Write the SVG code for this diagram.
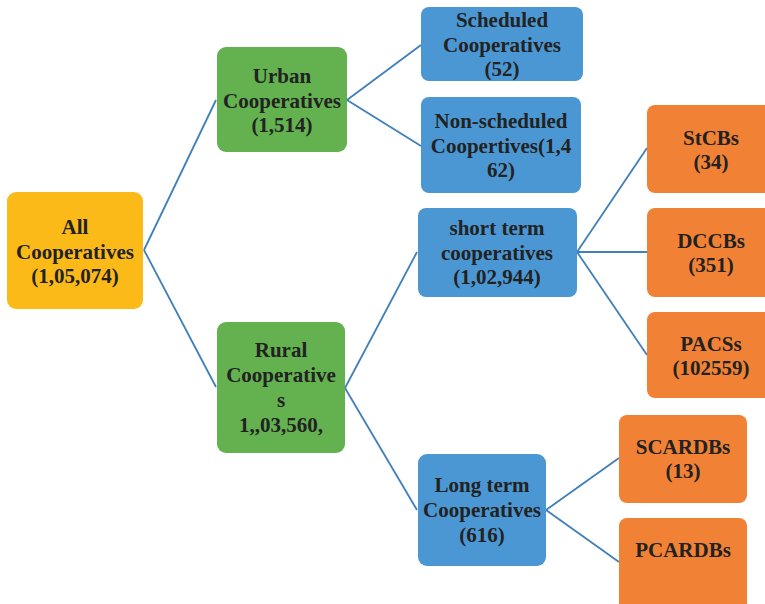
<svg xmlns="http://www.w3.org/2000/svg" width="765" height="604" viewBox="0 0 765 604">
<style>
.y{fill:#FBBA18}
.g{fill:#63B14F}
.b{fill:#4B97D3}
.o{fill:#F18135}
text{font-family:"Liberation Serif","Times New Roman",serif;font-weight:bold;font-size:21px;fill:#222;text-anchor:middle}
.c line{stroke:#3F7FBA;stroke-width:1.8}
</style>
<rect width="765" height="604" fill="#fff"/>
<g class="c" id="connectors">
<line x1="144" y1="250" x2="216" y2="100"/>
<line x1="144" y1="250" x2="216" y2="387"/>
<line x1="347" y1="100" x2="421" y2="45"/>
<line x1="347" y1="100" x2="421" y2="146"/>
<line x1="345" y1="388" x2="417" y2="252"/>
<line x1="345" y1="388" x2="417" y2="510"/>
<line x1="577" y1="252" x2="647" y2="148"/>
<line x1="577" y1="252" x2="647" y2="252"/>
<line x1="577" y1="252" x2="647" y2="355"/>
<line x1="546" y1="510" x2="619" y2="458"/>
<line x1="546" y1="510" x2="619" y2="562"/>
</g>
<g id="all"><rect class="y" x="7" y="192" width="136" height="117" rx="9"/>
<text x="75" y="234">All</text><text x="75" y="259">Cooperatives</text><text x="75" y="283">(1,05,074)</text></g>
<g id="urban"><rect class="g" x="217" y="47" width="130" height="105" rx="9"/>
<text x="282" y="83">Urban</text><text x="282" y="108">Cooperatives</text><text x="282" y="132">(1,514)</text></g>
<g id="scheduled"><rect class="b" x="421" y="7" width="162" height="74" rx="8"/>
<text x="502" y="27">Scheduled</text><text x="502" y="52">Cooperatives</text><text x="502" y="76">(52)</text></g>
<g id="nonscheduled"><rect class="b" x="421" y="97" width="160" height="96" rx="8"/>
<text x="501" y="128">Non-scheduled</text><text x="501" y="153">Coopertives(1,4</text><text x="501" y="177">62)</text></g>
<g id="rural"><rect class="g" x="217" y="322" width="128" height="131" rx="9"/>
<text x="281" y="357">Rural</text><text x="281" y="382">Cooperative</text><text x="281" y="407">s</text><text x="281" y="432">1,,03,560,</text></g>
<g id="shortterm"><rect class="b" x="418" y="208" width="159" height="89" rx="8"/>
<text x="497" y="235">short term</text><text x="497" y="260">cooperatives</text><text x="497" y="284">(1,02,944)</text></g>
<g id="stcbs"><rect class="o" x="647" y="105" width="130" height="88" rx="8"/>
<text x="711" y="145">StCBs</text><text x="711" y="169">(34)</text></g>
<g id="dccbs"><rect class="o" x="647" y="208" width="130" height="89" rx="8"/>
<text x="711" y="248">DCCBs</text><text x="711" y="272">(351)</text></g>
<g id="pacss"><rect class="o" x="647" y="312" width="130" height="86" rx="8"/>
<text x="711" y="351">PACSs</text><text x="711" y="375">(102559)</text></g>
<g id="longterm"><rect class="b" x="418" y="454" width="128" height="112" rx="9"/>
<text x="482" y="492">Long term</text><text x="482" y="517">Cooperatives</text><text x="482" y="542">(616)</text></g>
<g id="scardbs"><rect class="o" x="619" y="415" width="128" height="88" rx="8"/>
<text x="683" y="454">SCARDBs</text><text x="683" y="478">(13)</text></g>
<g id="pcardbs"><rect class="o" x="619" y="518" width="128" height="96" rx="8"/>
<text x="683" y="557">PCARDBs</text></g>
</svg>
